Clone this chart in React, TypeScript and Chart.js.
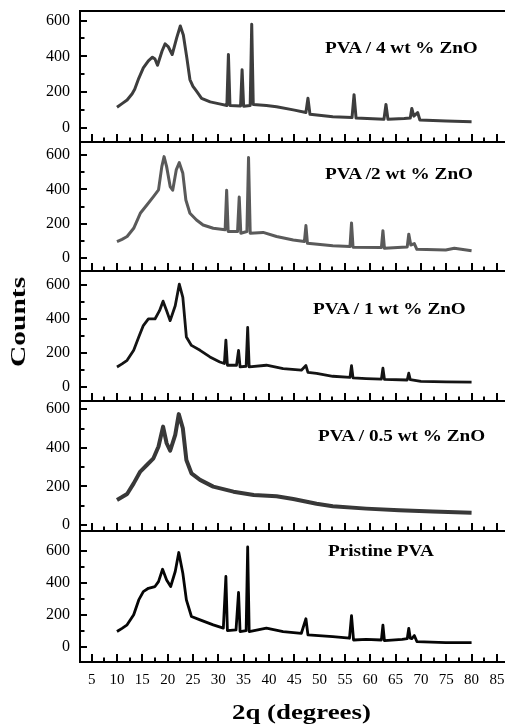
import React, { useEffect, useRef } from 'react';
import { Chart, registerables } from 'chart.js';

Chart.register(...registerables);

const FONT = "'Liberation Serif', 'Times New Roman', serif";

// Tick labels
const xTickValues = [5, 10, 15, 20, 25, 30, 35, 40, 45, 50, 55, 60, 65, 70, 75, 80, 85];
const yTickValues = [0, 200, 400, 600];

// Panel labels
const panelLabels = ['PVA / 4 wt % ZnO', 'PVA /2 wt % ZnO', 'PVA / 1 wt % ZnO', 'PVA / 0.5 wt % ZnO', 'Pristine PVA'];

// PVA / 4 wt % ZnO
const theta4 = [10, 11, 12, 13, 13.5, 14.3, 15.2, 16.2, 17.0, 17.5, 18.0, 18.9, 19.5, 20.1, 20.9, 21.8, 22.5, 23.1, 23.8, 24.4, 25.0, 25.7, 26.7, 28.4, 30.0, 31.7, 32.0, 32.3, 34.4, 34.7, 35.0, 36.3, 36.6, 36.9, 39.5, 41.5, 44.8, 47.3, 47.7, 48.1, 52.6, 56.4, 56.8, 57.2, 62.7, 63.1, 63.5, 66.7, 67.9, 68.2, 68.6, 69.35, 69.8, 75, 80];
const counts4 = [115, 135, 155, 190, 215, 277, 335, 375, 395, 385, 350, 430, 470, 455, 410, 505, 570, 520, 390, 270, 232, 205, 165, 145, 135, 125, 410, 125, 122, 325, 120, 125, 580, 130, 125, 118, 100, 85, 165, 75, 62, 57, 185, 54, 47, 130, 47, 52, 55, 108, 65, 85, 43, 38, 34];

// PVA / 2 wt % ZnO
const theta2 = [10, 11, 12, 13.3, 14.6, 15.9, 17.2, 18.2, 18.85, 19.3, 19.8, 20.5, 21.0, 21.7, 22.3, 23.0, 23.6, 24.4, 25.7, 27.0, 29.0, 31.35, 31.65, 31.95, 33.8, 34.13, 34.45, 35.65, 35.97, 36.3, 38.85, 41.5, 44.8, 47.0, 47.3, 47.6, 52.6, 56.0, 56.3, 56.6, 62.2, 62.5, 62.8, 66.3, 67.3, 67.6, 68.0, 68.7, 69.2, 74.9, 76.6, 80];
const counts2 = [97, 110, 126, 174, 261, 309, 358, 397, 532, 590, 532, 416, 395, 513, 555, 493, 338, 261, 222, 193, 174, 165, 395, 155, 155, 355, 145, 155, 585, 145, 150, 126, 106, 97, 190, 87, 72, 68, 205, 64, 62, 160, 58, 64, 66, 140, 77, 85, 52, 48, 58, 44];

// PVA / 1 wt % ZnO
const theta1 = [10, 11, 12, 13.3, 14.3, 15.2, 16.2, 17.5, 18.4, 19.1, 19.8, 20.5, 21.5, 22.3, 23.0, 23.7, 24.7, 26.4, 28.35, 30.3, 31.2, 31.5, 31.8, 33.6, 34.0, 34.3, 35.5, 35.8, 36.1, 39.5, 42.8, 46.4, 47.3, 47.7, 49.4, 52.6, 56.0, 56.3, 56.6, 59.2, 62.2, 62.5, 62.8, 67.3, 67.6, 67.9, 70, 75, 80];
const counts1 = [117, 135, 156, 215, 293, 361, 400, 400, 449, 505, 449, 390, 478, 605, 527, 293, 244, 215, 176, 146, 137, 275, 127, 127, 215, 117, 121, 350, 117, 127, 107, 98, 125, 85, 79, 62, 55, 125, 52, 48, 45, 110, 44, 40, 80, 42, 32, 29, 27];

// PVA / 0.5 wt % ZnO
const theta05 = [10, 11, 12, 13.3, 14.6, 15.9, 17.2, 18.2, 19.1, 19.8, 20.5, 21.5, 22.2, 23.0, 23.7, 24.7, 26.4, 29.0, 33.0, 37.0, 41.5, 44.8, 49.4, 52.6, 59.2, 65.7, 72.3, 80];
const counts05 = [130, 145, 161, 216, 277, 311, 346, 407, 510, 424, 385, 467, 575, 502, 337, 268, 234, 199, 173, 156, 149, 135, 110, 97, 85, 76, 70, 63];

// Pristine PVA
const theta0 = [10, 11, 12, 13.3, 14.3, 15.2, 16.2, 17.5, 18.2, 19.0, 19.8, 20.6, 21.5, 22.2, 23.0, 23.7, 24.7, 26.4, 29.0, 31.0, 31.5, 31.8, 33.5, 34.0, 34.3, 35.5, 35.8, 36.1, 39.5, 42.8, 46.4, 47.3, 47.7, 52.6, 55.9, 56.3, 56.7, 59.2, 62.2, 62.5, 62.8, 66.3, 67.3, 67.6, 67.9, 68.2, 68.7, 69.2, 74.9, 80];
const counts0 = [95, 115, 137, 200, 293, 345, 366, 377, 408, 485, 418, 377, 471, 590, 460, 293, 189, 168, 137, 116, 440, 101, 105, 340, 95, 101, 625, 95, 116, 95, 84, 175, 74, 63, 53, 195, 42, 46, 42, 135, 38, 46, 50, 115, 53, 50, 70, 32, 25, 25];

const X_MIN = 2.7;
const X_MAX = 86.6;
const PAD = 6;
const BOTTOM_AXIS_H = 40;

type Panel = {
  theta: number[];
  counts: number[];
  label: string;
  color: string;
  width: number;
  top: number;
  bottom: number;
  yMin: number;
  yMax: number;
  labelLeft: number;
  labelTop: number;
  first: boolean;
  last: boolean;
};

const panels: Panel[] = [
  { theta: theta4, counts: counts4, label: panelLabels[0], color: '#3d3d3d', width: 3, top: 11, bottom: 142, yMin: -80, yMax: 654, labelLeft: 325, labelTop: 38.7, first: true, last: false },
  { theta: theta2, counts: counts2, label: panelLabels[1], color: '#5a5a5a', width: 3, top: 142, bottom: 271, yMin: -74, yMax: 675, labelLeft: 325, labelTop: 164.7, first: false, last: false },
  { theta: theta1, counts: counts1, label: panelLabels[2], color: '#141414', width: 2.8, top: 271, bottom: 401, yMin: -84, yMax: 683, labelLeft: 313, labelTop: 300.3, first: false, last: false },
  { theta: theta05, counts: counts05, label: panelLabels[3], color: '#383838', width: 4, top: 401, bottom: 531, yMin: -31, yMax: 643, labelLeft: 318, labelTop: 427, first: false, last: false },
  { theta: theta0, counts: counts0, label: panelLabels[4], color: '#050505', width: 2.8, top: 531, bottom: 662, yMin: -96, yMax: 725, labelLeft: 328, labelTop: 542, first: false, last: true },
];

const innerTicks = {
  id: 'innerTicks',
  afterDraw(chart: any) {
    const { ctx, chartArea, scales } = chart;
    const xs = scales.x;
    const ys = scales.y;
    ctx.save();
    ctx.strokeStyle = '#000';
    ctx.lineWidth = 2;
    ctx.beginPath();
    for (let i = 1; i * 2.5 <= xs.max; i++) {
      const v = i * 2.5;
      if (v < xs.min) continue;
      const px = Math.round(xs.getPixelForValue(v));
      const len = i % 2 === 0 ? 8 : 4.5;
      ctx.moveTo(px, chartArea.bottom);
      ctx.lineTo(px, chartArea.bottom - len);
    }
    for (let i = 0; i <= 6; i++) {
      const v = i * 100;
      const py = Math.round(ys.getPixelForValue(v));
      const len = i % 2 === 0 ? 7 : 4.5;
      ctx.moveTo(chartArea.left, py);
      ctx.lineTo(chartArea.left + len, py);
    }
    ctx.stroke();
    ctx.restore();
  },
};

function PanelChart({ p }: { p: Panel }) {
  const ref = useRef<HTMLCanvasElement | null>(null);
  const areaH = p.bottom - p.top;
  const canvasH = PAD + areaH + (p.last ? BOTTOM_AXIS_H : PAD);

  useEffect(() => {
    if (!ref.current) return;
    const scales: any = {
      x: {
        type: 'linear',
        position: 'bottom',
        min: X_MIN,
        max: X_MAX,
        afterBuildTicks: (s: any) => {
          s.ticks = xTickValues.map((v) => ({ value: v }));
        },
        afterFit: (s: any) => {
          s.paddingLeft = 0;
          s.paddingRight = 0;
          s.paddingTop = 0;
          s.paddingBottom = 0;
          s.height = p.last ? BOTTOM_AXIS_H : 0;
        },
        grid: { display: false, drawTicks: false },
        border: { display: true, width: 2, color: '#000' },
        ticks: {
          display: p.last,
          padding: 9,
          autoSkip: false,
          maxRotation: 0,
          color: '#000',
          font: { size: 15, family: FONT },
        },
      },
      y: {
        type: 'linear',
        position: 'left',
        min: p.yMin,
        max: p.yMax,
        afterBuildTicks: (s: any) => {
          s.ticks = yTickValues.map((v) => ({ value: v }));
        },
        afterFit: (s: any) => {
          s.width = 80;
          s.paddingTop = 0;
          s.paddingBottom = 0;
          s.paddingLeft = 0;
          s.paddingRight = 0;
        },
        grid: { display: false, drawTicks: false },
        border: { display: true, width: 2, color: '#000' },
        ticks: { padding: 10, color: '#000', font: { size: 16, family: FONT } },
      },
    };
    if (p.first) {
      scales.xTop = {
        type: 'linear',
        position: 'top',
        min: X_MIN,
        max: X_MAX,
        afterFit: (s: any) => {
          s.height = 0;
          s.paddingLeft = 0;
          s.paddingRight = 0;
        },
        ticks: { display: false },
        grid: { display: false, drawTicks: false },
        border: { display: true, width: 2, color: '#000' },
      };
    }
    const chart = new Chart(ref.current, {
      type: 'line',
      data: {
        datasets: [
          {
            data: p.theta.map((t, i) => ({ x: t, y: p.counts[i] })),
            borderColor: p.color,
            borderWidth: p.width,
            pointRadius: 0,
            tension: 0,
            fill: false,
            borderJoinStyle: 'round',
          } as any,
        ],
      },
      options: {
        responsive: false,
        animation: false,
        layout: { padding: { top: PAD, bottom: p.last ? 0 : PAD, left: 0, right: 0 } },
        plugins: { legend: { display: false }, tooltip: { enabled: false }, title: { display: false } },
        scales,
      } as any,
      plugins: [innerTicks],
    });
    return () => chart.destroy();
  }, [p]);

  return (
    <canvas
      ref={ref}
      width={505}
      height={canvasH}
      style={{ position: 'absolute', left: 0, top: p.top - PAD, width: 505, height: canvasH }}
    />
  );
}

export default function App() {
  const labelStyle: React.CSSProperties = {
    position: 'absolute',
    fontFamily: FONT,
    fontWeight: 'bold',
    fontSize: 17,
    lineHeight: '17px',
    whiteSpace: 'pre',
    color: '#000',
    transform: 'scaleX(1.13)',
    transformOrigin: 'left top',
  };
  return (
    <div style={{ position: 'absolute', left: 0, top: 0, width: 505, height: 728, background: '#fff', overflow: 'hidden' }}>
      {panels.map((p, i) => (
        <PanelChart key={i} p={p} />
      ))}
      {panels.map((p, i) => (
        <div key={'l' + i} style={{ ...labelStyle, left: p.labelLeft, top: p.labelTop }}>
          {p.label}
        </div>
      ))}
      <div
        style={{
          position: 'absolute',
          left: 17.5,
          top: 322,
          fontFamily: FONT,
          fontWeight: 'bold',
          fontSize: 22,
          lineHeight: '22px',
          whiteSpace: 'nowrap',
          color: '#000',
          transform: 'translate(-50%, -50%) rotate(-90deg) scaleX(1.34)',
        }}
      >
        Counts
      </div>
      <div
        style={{
          position: 'absolute',
          left: 232,
          top: 701,
          fontFamily: FONT,
          fontWeight: 'bold',
          fontSize: 22,
          lineHeight: '22px',
          whiteSpace: 'nowrap',
          color: '#000',
          transform: 'scaleX(1.22)',
          transformOrigin: 'left top',
        }}
      >
        2q (degrees)
      </div>
    </div>
  );
}
